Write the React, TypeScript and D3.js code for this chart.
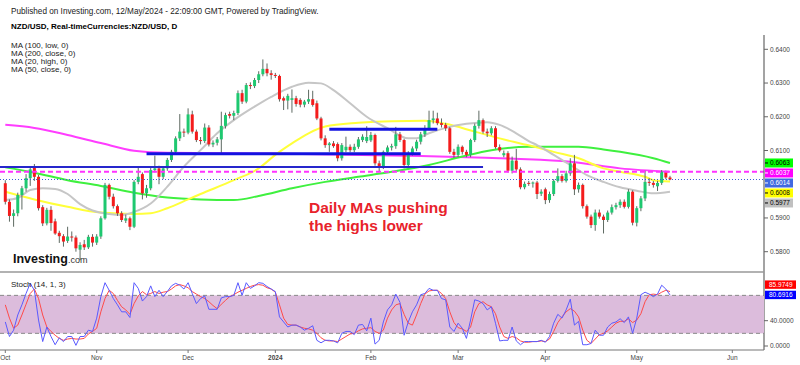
import * as d3 from 'd3'

// daily candles, Oct 2 2023 .. May 13 2024 (weekdays): [open, high, low, close]
const candles: [number, number, number, number][] = [
  [0.6003, 0.6012, 0.5940, 0.5948], [0.5948, 0.5955, 0.5889, 0.5906], [0.5906, 0.5925, 0.5874, 0.5914],
  [0.5914, 0.5975, 0.5905, 0.5968], [0.5968, 0.5995, 0.5925, 0.5988], [0.5988, 0.6030, 0.5978, 0.6018],
  [0.6018, 0.6052, 0.5995, 0.6044], [0.6050, 0.6060, 0.6010, 0.6022], [0.6022, 0.6028, 0.5922, 0.5929],
  [0.5932, 0.5938, 0.5876, 0.5884], [0.5884, 0.5930, 0.5878, 0.5924], [0.5924, 0.5935, 0.5862, 0.5885],
  [0.5890, 0.5898, 0.5850, 0.5854], [0.5856, 0.5862, 0.5826, 0.5846], [0.5846, 0.5852, 0.5815, 0.5830],
  [0.5832, 0.5874, 0.5826, 0.5845], [0.5845, 0.5860, 0.5830, 0.5842], [0.5842, 0.5848, 0.5800, 0.5810],
  [0.5806, 0.5828, 0.5775, 0.5820], [0.5822, 0.5835, 0.5805, 0.5813], [0.5813, 0.5850, 0.5808, 0.5844],
  [0.5844, 0.5852, 0.5815, 0.5827], [0.5827, 0.5852, 0.5820, 0.5845], [0.5845, 0.5905, 0.5838, 0.5899],
  [0.5899, 0.6004, 0.5895, 0.5998], [0.5998, 0.6002, 0.5955, 0.5963], [0.5963, 0.5972, 0.5928, 0.5935],
  [0.5935, 0.5940, 0.5906, 0.5914], [0.5914, 0.5920, 0.5888, 0.5894], [0.5892, 0.5910, 0.5885, 0.5899],
  [0.5899, 0.5904, 0.5864, 0.5874], [0.5874, 0.6012, 0.5870, 0.6007], [0.6007, 0.6052, 0.6000, 0.6022],
  [0.6030, 0.6035, 0.5955, 0.5973], [0.5973, 0.5998, 0.5960, 0.5988], [0.5988, 0.6050, 0.5982, 0.6042],
  [0.6042, 0.6085, 0.6035, 0.6047], [0.6047, 0.6055, 0.6000, 0.6022], [0.6022, 0.6052, 0.6015, 0.6047],
  [0.6047, 0.6078, 0.6040, 0.6072], [0.6072, 0.6102, 0.6066, 0.6096], [0.6096, 0.6142, 0.6090, 0.6136],
  [0.6136, 0.6208, 0.6128, 0.6156], [0.6156, 0.6165, 0.6140, 0.6153], [0.6153, 0.6225, 0.6148, 0.6207],
  [0.6207, 0.6218, 0.6150, 0.6156], [0.6156, 0.6162, 0.6125, 0.6131], [0.6131, 0.6140, 0.6118, 0.6128],
  [0.6128, 0.6180, 0.6122, 0.6168], [0.6168, 0.6175, 0.6112, 0.6118], [0.6118, 0.6130, 0.6110, 0.6123],
  [0.6123, 0.6140, 0.6115, 0.6133], [0.6133, 0.6215, 0.6088, 0.6173], [0.6173, 0.6212, 0.6165, 0.6205],
  [0.6208, 0.6215, 0.6195, 0.6203], [0.6203, 0.6218, 0.6190, 0.6211], [0.6211, 0.6278, 0.6205, 0.6270],
  [0.6270, 0.6280, 0.6238, 0.6245], [0.6245, 0.6300, 0.6240, 0.6294], [0.6294, 0.6302, 0.6282, 0.6291],
  [0.6291, 0.6315, 0.6285, 0.6309], [0.6309, 0.6335, 0.6300, 0.6326], [0.6326, 0.6370, 0.6320, 0.6342],
  [0.6342, 0.6358, 0.6320, 0.6329], [0.6329, 0.6338, 0.6310, 0.6324], [0.6324, 0.6330, 0.6315, 0.6321],
  [0.6321, 0.6325, 0.6245, 0.6252], [0.6255, 0.6260, 0.6220, 0.6248], [0.6248, 0.6268, 0.6222, 0.6262],
  [0.6250, 0.6281, 0.6212, 0.6255], [0.6255, 0.6262, 0.6230, 0.6238], [0.6250, 0.6255, 0.6228, 0.6236],
  [0.6236, 0.6250, 0.6228, 0.6245], [0.6245, 0.6280, 0.6238, 0.6252], [0.6252, 0.6277, 0.6230, 0.6235],
  [0.6240, 0.6248, 0.6190, 0.6195], [0.6195, 0.6200, 0.6130, 0.6136], [0.6136, 0.6145, 0.6108, 0.6116],
  [0.6116, 0.6125, 0.6096, 0.6121], [0.6121, 0.6128, 0.6108, 0.6113], [0.6119, 0.6124, 0.6068, 0.6077],
  [0.6077, 0.6122, 0.6070, 0.6116], [0.6101, 0.6141, 0.6095, 0.6111], [0.6111, 0.6118, 0.6095, 0.6101],
  [0.6101, 0.6120, 0.6095, 0.6111], [0.6111, 0.6140, 0.6105, 0.6133], [0.6131, 0.6148, 0.6125, 0.6141],
  [0.6128, 0.6172, 0.6122, 0.6140], [0.6130, 0.6155, 0.6125, 0.6146], [0.6146, 0.6150, 0.6055, 0.6062],
  [0.6062, 0.6070, 0.6037, 0.6052], [0.6052, 0.6100, 0.6045, 0.6096], [0.6096, 0.6115, 0.6088, 0.6109],
  [0.6109, 0.6120, 0.6100, 0.6113], [0.6113, 0.6170, 0.6105, 0.6148], [0.6148, 0.6155, 0.6125, 0.6131],
  [0.6131, 0.6135, 0.6047, 0.6057], [0.6057, 0.6098, 0.6048, 0.6092], [0.6092, 0.6112, 0.6085, 0.6106],
  [0.6106, 0.6132, 0.6098, 0.6126], [0.6126, 0.6155, 0.6118, 0.6148], [0.6148, 0.6175, 0.6140, 0.6166],
  [0.6166, 0.6218, 0.6160, 0.6190], [0.6190, 0.6218, 0.6180, 0.6195], [0.6195, 0.6212, 0.6175, 0.6181],
  [0.6181, 0.6195, 0.6168, 0.6176], [0.6176, 0.6182, 0.6158, 0.6166], [0.6166, 0.6170, 0.6090, 0.6096],
  [0.6096, 0.6105, 0.6078, 0.6087], [0.6087, 0.6118, 0.6080, 0.6111], [0.6111, 0.6115, 0.6088, 0.6096],
  [0.6096, 0.6102, 0.6080, 0.6087], [0.6087, 0.6135, 0.6080, 0.6131], [0.6131, 0.6180, 0.6125, 0.6173],
  [0.6173, 0.6218, 0.6165, 0.6190], [0.6190, 0.6195, 0.6150, 0.6156], [0.6156, 0.6165, 0.6140, 0.6151],
  [0.6151, 0.6172, 0.6145, 0.6166], [0.6166, 0.6172, 0.6105, 0.6110], [0.6110, 0.6118, 0.6095, 0.6100],
  [0.6086, 0.6100, 0.6080, 0.6092], [0.6092, 0.6098, 0.6035, 0.6040], [0.6040, 0.6082, 0.6032, 0.6070],
  [0.6070, 0.6105, 0.6038, 0.6044], [0.6044, 0.6050, 0.5985, 0.5991], [0.5991, 0.6008, 0.5985, 0.6001],
  [0.6004, 0.6010, 0.5995, 0.6002], [0.6002, 0.6008, 0.5990, 0.6005], [0.6005, 0.6010, 0.5956, 0.5971],
  [0.5972, 0.5985, 0.5965, 0.5978], [0.5985, 0.5990, 0.5941, 0.5953], [0.5953, 0.5978, 0.5945, 0.5971],
  [0.5971, 0.6015, 0.5965, 0.6010], [0.6010, 0.6047, 0.6005, 0.6024], [0.6024, 0.6030, 0.6005, 0.6010],
  [0.6010, 0.6040, 0.6005, 0.6032], [0.6032, 0.6077, 0.6025, 0.6062], [0.6062, 0.6087, 0.5968, 0.5985],
  [0.5985, 0.6005, 0.5975, 0.5998], [0.5998, 0.6002, 0.5928, 0.5935], [0.5935, 0.5940, 0.5898, 0.5904],
  [0.5904, 0.5910, 0.5870, 0.5879], [0.5879, 0.5925, 0.5862, 0.5916], [0.5916, 0.5925, 0.5898, 0.5904],
  [0.5904, 0.5910, 0.5854, 0.5894], [0.5894, 0.5922, 0.5888, 0.5916], [0.5916, 0.5940, 0.5910, 0.5932],
  [0.5932, 0.5945, 0.5925, 0.5938], [0.5938, 0.5955, 0.5930, 0.5948], [0.5948, 0.5955, 0.5928, 0.5933],
  [0.5933, 0.5985, 0.5928, 0.5978], [0.5978, 0.5982, 0.5878, 0.5886], [0.5886, 0.5935, 0.5875, 0.5929],
  [0.5929, 0.5965, 0.5920, 0.5958], [0.5958, 0.6040, 0.5950, 0.6007], [0.6007, 0.6018, 0.5995, 0.6004],
  [0.6004, 0.6010, 0.5990, 0.5998], [0.5994, 0.6010, 0.5980, 0.6004], [0.6004, 0.6042, 0.5998, 0.6037],
  [0.6037, 0.6040, 0.6015, 0.6020], [0.6020, 0.6025, 0.6012, 0.6014],
]

// moving averages, read at a few bars: [bar index, value]
const ma20High: [number, number][] = [
  [0, 0.5953], [3, 0.5959], [6, 0.5983], [9, 0.5988], [12, 0.5986], [15, 0.5971], [18, 0.5941],
  [21, 0.5922], [25, 0.5912], [28, 0.5909], [31, 0.5918], [35, 0.5943], [39, 0.5993], [43, 0.6052],
  [47, 0.6101], [51, 0.6151], [55, 0.6190], [60, 0.6230], [64, 0.6259], [69, 0.6289], [73, 0.6301],
  [76, 0.6299], [79, 0.6279], [83, 0.6240], [87, 0.6200], [92, 0.6166], [97, 0.6136], [99, 0.6136],
  [102, 0.6151], [106, 0.6167], [111, 0.6179], [116, 0.6184], [119, 0.6176], [123, 0.6151],
  [126, 0.6128], [128, 0.6116], [132, 0.6087], [136, 0.6057], [140, 0.6027], [144, 0.6007],
  [148, 0.5991], [152, 0.5981], [156, 0.5973], [160, 0.5978],
]
const ma50Close: [number, number][] = [
  [0, 0.5978], [7, 0.5955], [15, 0.5933], [23, 0.5916], [31, 0.5912], [35, 0.5914], [39, 0.5929],
  [44, 0.5955], [47, 0.5971], [55, 0.6012], [61, 0.6047], [65, 0.6087], [69, 0.6121], [73, 0.6151],
  [77, 0.6171], [85, 0.6182], [93, 0.6187], [101, 0.6188], [106, 0.6179], [113, 0.6156],
  [119, 0.6136], [124, 0.6121], [129, 0.6106], [132, 0.6096], [138, 0.6077], [144, 0.6047],
  [148, 0.6037], [154, 0.6022], [156, 0.6012], [160, 0.6008],
]
const ma100Low: [number, number][] = [
  [0, 0.6050], [7, 0.6034], [15, 0.6012], [23, 0.5995], [31, 0.5975], [39, 0.5961], [47, 0.5955],
  [55, 0.5953], [61, 0.5965], [69, 0.5988], [77, 0.6007], [85, 0.6022], [93, 0.6037], [102, 0.6057],
  [110, 0.6082], [117, 0.6101], [126, 0.6111], [132, 0.6111], [138, 0.6111], [144, 0.6103],
  [148, 0.6096], [156, 0.6077], [160, 0.6063],
]
const ma200Close: [number, number][] = [
  [0, 0.6176], [7, 0.6167], [15, 0.6146], [23, 0.6122], [31, 0.6099], [39, 0.6093], [64, 0.6091],
  [100, 0.6084], [119, 0.6077], [124, 0.6075], [136, 0.6067], [148, 0.6047], [160, 0.6037],
]

// stochastic (14, 1, 3)
const stochK = [
  38, 15, 25, 49, 65, 83, 99, 88, 41, 7, 30, 15, 2, 13, 7, 15, 15, 1, 15, 15,
  25, 23, 44, 78, 100, 88, 75, 65, 54, 54, 45, 100, 91, 71, 78, 95, 78, 88, 78, 86,
  95, 99, 96, 90, 100, 83, 67, 75, 79, 58, 58, 58, 76, 78, 78, 80, 100, 80, 100, 91,
  95, 100, 99, 94, 90, 86, 46, 38, 30, 33, 33, 30, 25, 28, 32, 9, 5, 9, 9, 8,
  5, 20, 23, 23, 18, 33, 34, 24, 44, 3, 9, 38, 57, 65, 82, 69, 17, 38, 54, 65,
  81, 83, 91, 88, 88, 75, 73, 30, 23, 36, 28, 12, 41, 73, 71, 67, 57, 62, 36, 8,
  9, 9, 30, 8, 2, 7, 7, 7, 7, 9, 6, 15, 36, 50, 44, 57, 74, 33, 39, 2,
  2, 4, 25, 17, 17, 30, 36, 38, 43, 37, 46, 20, 44, 81, 85, 82, 78, 82, 96, 90,
  80.6916,
]
const stochD = [
  65, 44, 28, 33, 49, 66, 83, 90, 75, 49, 30, 23, 17, 12, 9, 11, 12, 11, 11, 12,
  19, 23, 28, 54, 75, 88, 83, 72, 62, 57, 50, 67, 79, 86, 81, 83, 86, 83, 85, 86,
  90, 95, 97, 95, 92, 86, 82, 78, 75, 70, 64, 59, 66, 72, 78, 81, 85, 88, 91, 94,
  96, 97, 96, 92, 90, 85, 65, 44, 34, 33, 33, 30, 28, 27, 25, 20, 13, 9, 8, 8,
  7, 11, 15, 19, 20, 24, 27, 28, 29, 23, 20, 25, 44, 57, 65, 67, 50, 36, 33, 49,
  67, 82, 87, 88, 88, 83, 75, 54, 37, 29, 27, 23, 30, 54, 67, 70, 65, 62, 51, 30,
  15, 12, 15, 13, 8, 6, 6, 7, 7, 8, 7, 11, 23, 37, 46, 54, 59, 55, 46, 25,
  9, 4, 11, 18, 20, 24, 30, 36, 39, 39, 43, 37, 41, 51, 70, 81, 82, 81, 85, 88,
  85.9749,
]
const stochTicks = [40, 0]

const monthLabels = ['Oct', 'Nov', 'Dec', '2024', 'Feb', 'Mar', 'Apr', 'May', 'Jun']
const monthDates = ['2023-10-02', '2023-11-01', '2023-12-01', '2024-01-01', '2024-02-01',
  '2024-03-01', '2024-04-01', '2024-05-01', '2024-06-03']
const priceTicks = [0.64, 0.63, 0.62, 0.61, 0.59, 0.58]

// last-value tags on the price axis
const tagValues = [0.6063, 0.6037, 0.6014, 0.6008, 0.5977]
const tagColors = ['#00ff00', '#ff00ff', '#4169e1', '#ffff00', '#c0c0c0']
const tagText = ['#000', '#fff', '#fff', '#000', '#000']

// hand drawn horizontal levels
const levelPrices = [0.6090, 0.6051, 0.6163]
const levelFrom = [34, -2, 78]
const levelTo = [100, 115, 104]

const maLegend = ['MA (100, low, 0)', 'MA (200, close, 0)', 'MA (20, high, 0)', 'MA (50, close, 0)']

function weekdays(start: string, count: number) {
  const out: string[] = []
  const d = new Date(start + 'T00:00:00Z')
  while (out.length < count) {
    const wd = d.getUTCDay()
    if (wd !== 0 && wd !== 6) out.push(d.toISOString().slice(0, 10))
    d.setUTCDate(d.getUTCDate() + 1)
  }
  return out
}

const barDates = weekdays('2023-10-02', 176)
const font = 'Arial, "Liberation Sans", sans-serif'

export default function App() {
  const axisX = 764
  const x = d3.scaleLinear().domain([0, 175]).range([5.3, 732.3])
  const yP = d3.scaleLinear().domain([0.58, 0.64]).range([251.7, 49.3])
  const yS = d3.scaleLinear().domain([0, 100]).range([346, 282.7])

  const maLine = d3.line<[number, number]>()
    .x(d => x(d[0]))
    .y(d => yP(d[1]))
    .curve(d3.curveMonotoneX)
  const stochLine = d3.line<number>().x((_, i) => x(i)).y(d => yS(d))

  // stack the price tags so they do not overlap
  const tagY: number[] = []
  tagValues.forEach((v, i) => {
    const c = yP(v)
    tagY.push(i === 0 ? c : Math.max(c, tagY[i - 1] + 10))
  })
  const lastK = stochK[stochK.length - 1]
  const lastD = stochD[stochD.length - 1]
  const kTagY = yS(lastK)
  const dTagY = Math.min(yS(lastD), kTagY - 10.3)

  const bodyW = 3

  return (
    <svg width={800} height={365} style={{ position: 'absolute', left: 0, top: 0, background: '#fff' }}
      fontFamily={font}>
      <defs>
        <clipPath id="mainClip"><rect x={0} y={35} width={axisX} height={237} /></clipPath>
        <clipPath id="stochClip"><rect x={0} y={272} width={axisX} height={78} /></clipPath>
        <clipPath id="timeClip"><rect x={0} y={350} width={axisX} height={15} /></clipPath>
      </defs>
      <rect width={800} height={365} fill="#fff" />

      {/* header */}
      <text x={11} y={14} fontSize={8.2} fill="#222">
        Published on Investing.com, 12/May/2024 - 22:09:00 GMT, Powered by TradingView.
      </text>
      <text x={11} y={29} fontSize={8} fontWeight="bold" fill="#000">
        NZD/USD, Real-timeCurrencies:NZD/USD, D
      </text>
      {maLegend.map((t, i) => (
        <text key={t} x={11} y={47.5 + i * 8.3} fontSize={8} fill="#222">{t}</text>
      ))}

      <g clipPath="url(#mainClip)">
        {/* moving averages */}
        <path d={maLine(ma200Close) ?? ''} fill="none" stroke="#ff3dff" strokeWidth={2} />
        <path d={maLine(ma100Low) ?? ''} fill="none" stroke="#3ff03f" strokeWidth={2} />
        <path d={maLine(ma50Close) ?? ''} fill="none" stroke="#ffff3a" strokeWidth={2} />
        <path d={maLine(ma20High) ?? ''} fill="none" stroke="#c6c6c6" strokeWidth={2} />

        {/* candles */}
        {candles.map(([o, h, l, c], i) => {
          const up = c >= o
          const top = yP(Math.max(o, c))
          const bot = yP(Math.min(o, c))
          return (
            <g key={i}>
              <line x1={x(i)} x2={x(i)} y1={yP(h)} y2={yP(l)} stroke="#5e6a62" strokeWidth={1} />
              <rect x={x(i) - bodyW / 2} y={top} width={bodyW} height={Math.max(1, bot - top)}
                fill={up ? '#1ec870' : '#f41c1c'} />
            </g>
          )
        })}

        {/* hand drawn levels */}
        {levelPrices.map((p, i) => (
          <line key={i} x1={x(levelFrom[i])} x2={x(levelTo[i])} y1={yP(p)} y2={yP(p)}
            stroke={i === 1 ? '#2626cc' : '#1212e0'} strokeWidth={i === 1 ? 2 : 3} />
        ))}

        {/* MA200 and last price lines */}
        <line x1={0} x2={axisX} y1={yP(tagValues[1])} y2={yP(tagValues[1])}
          stroke="#ff33ff" strokeWidth={2} strokeDasharray="5,3" />
        <line x1={0} x2={axisX} y1={yP(tagValues[2])} y2={yP(tagValues[2])}
          stroke="#3a5fd8" strokeWidth={1} strokeDasharray="1,2" />
      </g>

      {/* annotation */}
      <text fontSize={15.5} fontWeight="bold" fill="#e8222b">
        <tspan x={309} y={212.7}>Daily MAs pushing</tspan>
        <tspan x={309} y={231}>the highs lower</tspan>
      </text>

      {/* logo */}
      <text x={13} y={262.7} fill="#111">
        <tspan fontSize={12.5} fontWeight="bold">Investing</tspan>
        <tspan fontSize={9} fill="#333">.com</tspan>
      </text>

      {/* price axis */}
      <line x1={axisX} x2={axisX} y1={35} y2={350} stroke="#666" strokeWidth={1.2} />
      {priceTicks.map(p => (
        <g key={p}>
          <line x1={axisX} x2={axisX + 4} y1={yP(p)} y2={yP(p)} stroke="#666" />
          <text x={axisX + 6} y={yP(p)} dy="0.35em" fontSize={6.5} fill="#444">{p.toFixed(4)}</text>
        </g>
      ))}
      {tagValues.map((v, i) => (
        <g key={i}>
          <rect x={axisX + 1} y={tagY[i] - 4.5} width={28} height={9} fill={tagColors[i]} />
          <line x1={axisX + 1} x2={axisX + 4} y1={tagY[i]} y2={tagY[i]} stroke={tagText[i]} />
          <text x={axisX + 6} y={tagY[i]} dy="0.35em" fontSize={6.5} fill={tagText[i]}>{v.toFixed(4)}</text>
        </g>
      ))}

      {/* stochastic panel */}
      <line x1={0} x2={axisX} y1={272} y2={272} stroke="#999" strokeWidth={1.5} />
      <rect x={0} y={yS(80)} width={axisX} height={yS(20) - yS(80)} fill="#dcbcdc" />
      <line x1={0} x2={axisX} y1={yS(80)} y2={yS(80)} stroke="#888" strokeDasharray="4,3" />
      <line x1={0} x2={axisX} y1={yS(20)} y2={yS(20)} stroke="#888" strokeDasharray="4,3" />
      <g clipPath="url(#stochClip)">
        <path d={stochLine(stochD) ?? ''} fill="none" stroke="#ff4a4a" strokeWidth={1} />
        <path d={stochLine(stochK) ?? ''} fill="none" stroke="#5a5aff" strokeWidth={1} />
      </g>
      <text x={11} y={287} fontSize={8} fill="#222">Stoch (14, 1, 3)</text>
      {stochTicks.map(v => (
        <g key={v}>
          <line x1={axisX} x2={axisX + 4} y1={yS(v)} y2={yS(v)} stroke="#666" />
          <text x={axisX + 6} y={yS(v)} dy="0.35em" fontSize={6.5} fill="#444">{v.toFixed(4)}</text>
        </g>
      ))}
      <rect x={axisX + 1} y={dTagY - 4.2} width={31} height={8.4} fill="#ff0000" />
      <text x={axisX + 5} y={dTagY} dy="0.35em" fontSize={6.5} fill="#fff">{lastD.toFixed(4)}</text>
      <rect x={axisX + 1} y={kTagY - 4.2} width={31} height={8.4} fill="#0000ff" />
      <text x={axisX + 5} y={kTagY} dy="0.35em" fontSize={6.5} fill="#fff">{lastK.toFixed(4)}</text>

      {/* time axis */}
      <line x1={0} x2={axisX} y1={350} y2={350} stroke="#777" strokeWidth={1.2} />
      <g clipPath="url(#timeClip)">
        {monthLabels.map((m, i) => {
          const px = x(barDates.indexOf(monthDates[i]))
          return (
            <g key={m}>
              <line x1={px} x2={px} y1={350} y2={353} stroke="#777" />
              <text x={px} y={360} textAnchor="middle" fontSize={6.5}
                fontWeight={m === '2024' ? 'bold' : 'normal'} fill="#444">{m}</text>
            </g>
          )
        })}
      </g>
    </svg>
  )
}
